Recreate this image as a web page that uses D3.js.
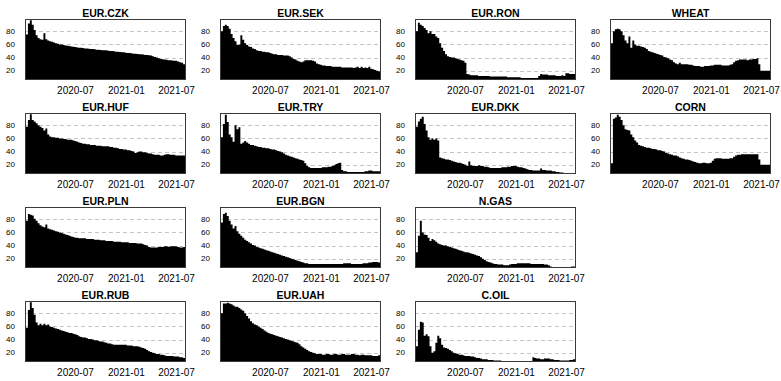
<!DOCTYPE html>
<html>
<head>
<meta charset="utf-8">
<script src="https://cdn.jsdelivr.net/npm/d3@7"></script>
<style>
  body { margin: 0; background: #fff; }
  svg { display: block; font-family: "Liberation Sans", Arial, sans-serif; }
</style>
</head>
<body>
<svg id="chart" width="781" height="381"></svg>
<script>
// Weekly observations, starting on startDate, one value every stepDays days.
const startDate = "2020-01-01";
const endDate = "2021-08-04";
const stepDays = 7;
const tickLabels = ["2020-07", "2021-01", "2021-07"];
const yTicks = [20, 40, 60, 80];
const yDomain = [5.8, 98.8];

// Panels are laid out column by column (4 rows per column).
const panelNames = ["EUR.CZK", "EUR.HUF", "EUR.PLN", "EUR.RUB",
                    "EUR.SEK", "EUR.TRY", "EUR.BGN", "EUR.UAH",
                    "EUR.RON", "EUR.DKK", "N.GAS", "C.OIL",
                    "WHEAT", "CORN"];

const EUR_CZK = [62, 75, 92, 97, 90, 82, 74, 70, 68, 67,
  77, 68, 66, 65, 64, 63, 62, 61, 60, 60,
  59, 58.5, 58, 57.5, 57, 56.5, 56, 55.5, 55, 55,
  54.5, 54, 54, 53.5, 53, 53, 52.5, 52, 52, 51.5,
  51, 51, 51, 50.5, 50, 50, 49.5, 49, 49, 48.5,
  48, 48, 47.5, 47, 47, 46.5, 46, 46, 45.5, 45,
  45, 44.5, 44, 44, 43.5, 43, 42, 41, 40, 39,
  38, 37.5, 37, 36.5, 36, 36, 35.5, 35, 35, 34,
  33, 32, 30, 32];

const EUR_HUF = [60, 78, 88, 97, 88, 86, 83, 80, 78, 76,
  72, 75, 66, 63, 62, 62, 61, 61, 60, 60,
  59, 59, 58, 58, 58, 57, 56, 55, 54, 53,
  52, 52, 51, 51, 50, 50, 50, 49, 49, 49,
  48, 48, 48, 48, 47, 47, 46, 46, 45, 44,
  44, 43, 43, 42, 42, 41, 40, 38, 39, 40,
  40, 39, 39, 38, 37, 37, 36, 35, 35, 35,
  34, 34, 35, 36, 36, 35, 35, 35, 34, 34,
  34, 34, 34, 34];

const EUR_PLN = [60, 78, 88, 87, 86, 81, 78, 74, 71, 69,
  68, 72, 66, 65, 64, 63, 62, 61, 60, 59,
  58, 57, 56, 55, 54, 53, 52, 52, 51, 51,
  51, 51, 50, 50, 50, 50, 49, 49, 49, 48,
  48, 48, 47, 47, 47, 47, 46, 46, 46, 46,
  45, 45, 45, 45, 44, 44, 44, 44, 43, 43,
  43, 42, 41, 40, 38, 37, 37, 37, 37, 38,
  38, 38, 39, 39, 38, 39, 39, 39, 39, 38,
  37, 37, 38, 39];

const EUR_RUB = [42, 58, 85, 97, 88, 78, 66, 62, 64, 62,
  64, 62, 63, 60, 59, 58, 57, 56, 55, 54,
  53, 52, 51, 50, 50, 49, 48, 47, 45, 44,
  43, 43, 42, 41, 41, 40, 39, 39, 38, 37,
  37, 36, 35, 34, 34, 33, 32, 32, 32, 32,
  32, 32, 32, 31, 31, 31, 30, 30, 30, 29,
  28, 27, 26, 24, 22, 21, 20, 19, 18, 18,
  17, 17, 16, 15, 15, 15, 15, 14, 14, 14,
  13, 13, 12, 12];

const EUR_SEK = [50, 80, 88, 90, 88, 84, 76, 70, 65, 59,
  60, 74, 67, 62, 59, 57, 56, 54, 53, 51,
  50, 50, 49, 49, 48, 48, 47, 46, 45, 45,
  44, 44, 44, 43, 43, 43, 42, 40, 38, 37,
  35, 34, 33, 34, 36, 36, 36, 36, 35, 34,
  31, 30, 29, 28, 28, 27, 27, 27, 26, 26,
  26, 26, 26, 25, 25, 25, 25, 25, 25, 24,
  25, 26, 24, 26, 24, 25, 24, 26, 23, 22,
  21, 20, 19, 17];

const EUR_TRY = [42, 62, 82, 96, 85, 66, 62, 55, 80, 74,
  77, 52, 54, 56, 54, 52, 50, 50, 49, 48,
  47, 47, 46, 46, 45, 45, 44, 43, 43, 42,
  41, 40, 39, 37, 35, 34, 33, 32, 31, 30,
  29, 28, 27, 26, 22, 18, 16, 15, 15, 15,
  15, 15, 15, 16, 16, 16, 17, 17, 18, 19,
  21, 22, 23, 12, 10, 10, 9, 9, 9, 9,
  9, 9, 9, 9, 9, 10, 10, 11, 11, 10,
  10, 10, 10, 10];

const EUR_BGN = [55, 75, 88, 90, 85, 78, 72, 66, 70, 62,
  58, 55, 52, 49, 47, 45, 43, 41, 40, 38,
  37, 36, 35, 34, 33, 32, 31, 30, 29, 28,
  27, 26, 25, 24, 23, 22, 21, 20, 19, 18,
  17, 16, 15, 14, 13, 13, 12, 12, 12, 12,
  12, 12, 12, 12, 12, 12, 12, 12, 12, 12,
  12, 12, 12, 12, 13, 13, 13, 13, 12, 12,
  12, 12, 12, 12, 13, 13, 13, 14, 14, 15,
  15, 15, 14, 15];

const EUR_UAH = [65, 80, 95, 95, 96, 95, 94, 92, 90, 90,
  88, 86, 84, 80, 76, 72, 68, 65, 63, 62,
  60, 58, 56, 54, 52, 50, 49, 48, 47, 46,
  45, 44, 43, 42, 41, 40, 39, 38, 37, 36,
  35, 33, 30, 28, 26, 24, 22, 21, 20, 19,
  18, 18, 18, 17, 17, 18, 18, 17, 17, 18,
  18, 17, 17, 18, 18, 17, 17, 17, 18, 18,
  17, 17, 16, 17, 17, 16, 16, 16, 16, 15,
  15, 15, 16, 16];

const EUR_RON = [55, 80, 93, 90, 88, 85, 82, 77, 80, 76,
  76, 72, 70, 62, 55, 50, 45, 42, 41, 40,
  40, 39, 38, 37, 36, 35, 32, 15, 14, 13,
  13, 13, 13, 12, 12, 12, 12, 12, 12, 11,
  11, 11, 11, 11, 11, 11, 11, 11, 10, 10,
  10, 10, 10, 10, 10, 9, 9, 9, 9, 9,
  9, 9, 9, 9, 12, 15, 14, 14, 14, 13,
  13, 13, 13, 12, 12, 12, 13, 12, 16, 16,
  15, 15, 15, 14];

const EUR_DKK = [62, 78, 86, 90, 93, 82, 72, 62, 58, 60,
  58, 60, 57, 31, 30, 29, 28, 28, 27, 26,
  25, 24, 23, 23, 22, 21, 20, 18, 25, 19,
  18, 18, 18, 19, 18, 18, 17, 17, 16, 15,
  15, 15, 15, 15, 15, 16, 16, 16, 17, 17,
  18, 18, 18, 17, 16, 16, 15, 14, 13, 12,
  12, 11, 11, 11, 11, 14, 12, 12, 11, 11,
  11, 10, 10, 9, 9, 8, 8, 7, 7, 6,
  5, 5, 5, 5];

const N_GAS = [17, 30, 55, 78, 60, 57, 56, 52, 47, 50,
  48, 46, 43, 42, 41, 40, 40, 39, 38, 37,
  36, 35, 34, 33, 32, 31, 30, 30, 29, 28,
  27, 26, 25, 24, 22, 20, 18, 16, 15, 14,
  13, 12, 12, 11, 11, 11, 10, 10, 10, 11,
  12, 12, 12, 13, 13, 13, 13, 13, 13, 13,
  12, 12, 12, 12, 12, 12, 12, 11, 11, 10,
  8, 7, 6, 6, 6, 6, 7, 7, 7, 7,
  7, 8, 8, 8];

const C_OIL = [33, 30, 55, 67, 66, 46, 48, 45, 30, 20,
  22, 35, 46, 42, 32, 28, 27, 26, 24, 22,
  20, 19, 18, 17, 17, 16, 15, 15, 15, 14,
  14, 13, 12, 12, 11, 10, 10, 10, 9, 9,
  9, 8, 8, 8, 8, 7, 7, 7, 7, 7,
  7, 7, 7, 6, 6, 6, 6, 6, 6, 6,
  6, 13, 12, 11, 11, 10, 10, 11, 11, 11,
  10, 10, 9, 9, 9, 8, 8, 8, 8, 8,
  9, 9, 10, 11];

const WHEAT = [28, 62, 80, 83, 84, 83, 80, 74, 66, 62,
  72, 55, 66, 60, 58, 58, 57, 56, 55, 53,
  50, 49, 48, 47, 46, 45, 44, 43, 41, 40,
  39, 37, 36, 33, 31, 30, 32, 30, 30, 30,
  30, 29, 29, 28, 27, 27, 27, 26, 26, 27,
  27, 27, 28, 28, 29, 29, 29, 29, 28, 28,
  28, 28, 29, 30, 33, 35, 36, 37, 37, 37,
  37, 36, 37, 37, 38, 38, 39, 30, 20, 20,
  20, 20, 20, 21];

const CORN = [18, 22, 90, 92, 96, 93, 88, 80, 74, 73,
  72, 66, 62, 57, 54, 50, 49, 48, 47, 46,
  46, 45, 44, 44, 43, 42, 42, 41, 40, 38,
  37, 36, 35, 34, 34, 33, 31, 30, 29, 28,
  28, 27, 26, 25, 24, 23, 22, 22, 23, 23,
  22, 22, 23, 26, 29, 30, 30, 30, 29, 29,
  29, 29, 30, 30, 32, 34, 35, 35, 36, 36,
  36, 36, 36, 36, 36, 36, 36, 28, 20, 20,
  20, 20, 20, 20];

const panelSeries = [EUR_CZK, EUR_HUF, EUR_PLN, EUR_RUB,
                     EUR_SEK, EUR_TRY, EUR_BGN, EUR_UAH,
                     EUR_RON, EUR_DKK, N_GAS, C_OIL,
                     WHEAT, CORN];

// Panel geometry
const rowsPerCol = 4;
const panelW = 161, panelH = 61;
const originX = 25, originY = 19;
const pitchX = 195, pitchY = 94;

const parseDay = d3.utcParse("%Y-%m-%d");
const parseMonth = d3.utcParse("%Y-%m");
const t0 = parseDay(startDate);

const x = d3.scaleUtc()
  .domain([t0, parseDay(endDate)])
  .range([0, panelW]);
const y = d3.scaleLinear().domain(yDomain).range([panelH, 0]);

const svg = d3.select("#chart");

svg.append("defs").append("clipPath")
  .attr("id", "plot-clip")
  .append("rect")
  .attr("x", 0).attr("y", 0)
  .attr("width", panelW).attr("height", panelH);

const area = d3.area()
  .curve(d3.curveStep)
  .x((d, i) => x(d3.utcDay.offset(t0, i * stepDays)))
  .y0(panelH)
  .y1(d => y(d));

panelNames.forEach((name, k) => {
  const col = Math.floor(k / rowsPerCol);
  const row = k % rowsPerCol;
  const g = svg.append("g")
    .attr("transform", `translate(${originX + col * pitchX},${originY + row * pitchY})`);

  // dashed horizontal reference lines
  g.selectAll("line.grid")
    .data(yTicks)
    .join("line")
    .attr("class", "grid")
    .attr("x1", 0).attr("x2", panelW)
    .attr("y1", d => Math.round(y(d)) + 0.5)
    .attr("y2", d => Math.round(y(d)) + 0.5)
    .attr("stroke", "#c4c4c4")
    .attr("stroke-width", 1)
    .attr("stroke-dasharray", "4,3");

  // filled series
  g.append("g")
    .attr("clip-path", "url(#plot-clip)")
    .append("path")
    .datum(panelSeries[k])
    .attr("d", area)
    .attr("fill", "#000");

  // frame
  g.append("rect")
    .attr("x", 0.5).attr("y", 0.5)
    .attr("width", panelW - 1).attr("height", panelH - 1)
    .attr("fill", "none")
    .attr("stroke", "#3a3a3a")
    .attr("stroke-width", 1);

  // title
  g.append("text")
    .attr("x", panelW / 2)
    .attr("y", -2)
    .attr("text-anchor", "middle")
    .attr("font-size", "10.5px")
    .attr("font-weight", "bold")
    .attr("fill", "#000")
    .text(name);

  // y tick labels
  g.selectAll("text.ytick")
    .data(yTicks)
    .join("text")
    .attr("class", "ytick")
    .attr("x", -10)
    .attr("y", d => y(d))
    .attr("dy", "0.35em")
    .attr("text-anchor", "end")
    .attr("font-size", "8px")
    .attr("fill", "#000")
    .text(d => d);

  // x tick labels
  g.selectAll("text.xtick")
    .data(tickLabels)
    .join("text")
    .attr("class", "xtick")
    .attr("x", d => x(parseMonth(d)))
    .attr("y", panelH + 14)
    .attr("text-anchor", "middle")
    .attr("font-size", "10px")
    .attr("fill", "#000")
    .text(d => d);
});
</script>
</body>
</html>
